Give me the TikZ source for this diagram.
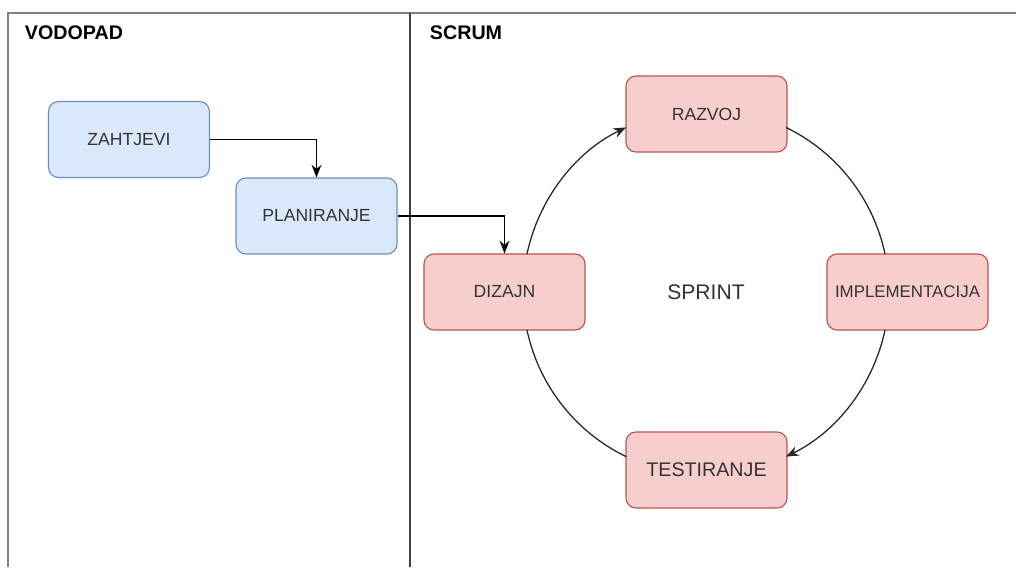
\documentclass[tikz,border=0pt]{standalone}
\usepackage{fontspec}
\setmainfont{Liberation Sans}
\usetikzlibrary{arrows.meta}
\definecolor{plavaIspuna}{HTML}{DAE8FC}
\definecolor{plavaLinija}{HTML}{6C8EBF}
\definecolor{crvenaIspuna}{HTML}{F8CECC}
\definecolor{crvenaLinija}{HTML}{B85450}
\definecolor{tekst}{HTML}{333333}
\begin{document}
\begin{tikzpicture}[x=0.025cm, y=0.025cm]
        \tikzset{>={Stealth[length=9pt,width=7pt]}}
        \tikzset{faza/.style={draw, rounded corners=0.25cm, minimum width=4.025cm,
                minimum height=1.9cm, text=tekst, font=\fontsize{12.5}{15}\selectfont, line width=0.8pt}}
        \tikzset{vodopad/.style={faza, fill=plavaIspuna, draw=plavaLinija}}
        \tikzset{scrum/.style={faza, fill=crvenaIspuna, draw=crvenaLinija}}
        \useasboundingbox (0,0) rectangle (1016,567);
        % okvir
        \draw[gray, line width=1pt] (8,0) -- (8,554) -- (1016,554);
        \draw[black!75, line width=1pt] (410,0) -- (410,554);
        \node[anchor=west, font=\bfseries\fontsize{14}{16}\selectfont] (naslovV) at (20,534) {VODOPAD};
        \node[anchor=west, font=\bfseries\fontsize{14}{16}\selectfont] (naslovS) at (425,534) {SCRUM};
        % vodopad
        \node[vodopad] (zahtjevi) at (129,427.5) {ZAHTJEVI};
        \node[vodopad] (planiranje) at (316.5,351) {PLANIRANJE};
        % scrum
        \coordinate (sredina) at (706,275);
        \node[text=tekst, font=\fontsize{15}{18}\selectfont] (sprint) at (sredina) {SPRINT};
        \node[scrum] (dizajn) at (504.5,275) {DIZAJN};
        \node[scrum] (razvoj) at (706.5,453) {RAZVOJ};
        \node[scrum, inner sep=0pt, font=\fontsize{12}{14}\selectfont] (implementacija) at (907.5,275) {IMPLEMENTACIJA};
        \node[scrum, font=\fontsize{14}{16}\selectfont] (testiranje) at (706.5,97) {TESTIRANJE};
        \draw[->, line width=1pt] (zahtjevi.east) -| (planiranje.north);
        \draw[->, line width=1pt] (planiranje.east) -| (dizajn.north);
        \draw[->, black!85, line width=0.9pt] ([shift={(168:183)}]sredina) arc[start angle=168, end angle=115.9, radius=183];
        \draw[black!85, line width=0.9pt] ([shift={(64.1:183)}]sredina) arc[start angle=64.1, end angle=12, radius=183];
        \draw[->, black!85, line width=0.9pt] ([shift={(-12:183)}]sredina) arc[start angle=-12, end angle=-64.1, radius=183];
        \draw[black!85, line width=0.9pt] ([shift={(-115.9:183)}]sredina) arc[start angle=-115.9, end angle=-168, radius=183];
    \end{tikzpicture}
\end{document}
